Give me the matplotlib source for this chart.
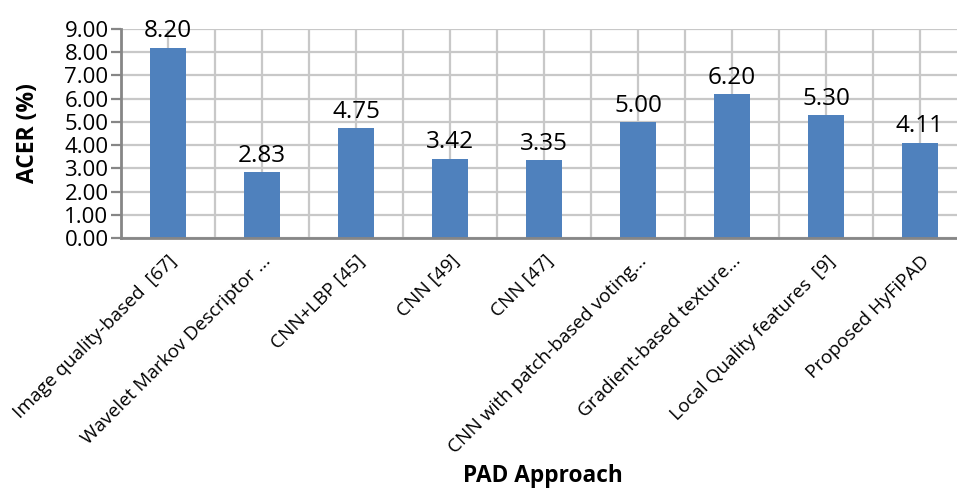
import matplotlib
matplotlib.use("Agg")
import matplotlib.pyplot as plt
import numpy as np

approaches = [
    "Image quality-based  [67]",
    "Wavelet Markov Descriptor ...",
    "CNN+LBP [45]",
    "CNN [49]",
    "CNN [47]",
    "CNN with patch-based voting...",
    "Gradient-based texture...",
    "Local Quality features  [9]",
    "Proposed HyFiPAD",
]
acer = [8.20, 2.83, 4.75, 3.42, 3.35, 5.00, 6.20, 5.30, 4.11]
yticks = [0, 1, 2, 3, 4, 5, 6, 7, 8, 9]

W, H = 957, 488
fig = plt.figure(figsize=(W / 100, H / 100), dpi=100)
left, bottom, top = 121, 238, 29
right = 967
ax = fig.add_axes([left / W, 1 - bottom / H, (right - left) / W, (bottom - top) / H])

x = np.arange(len(approaches))
bar_color = "#4F81BD"
grid_color = "#C8C8C8"
spine_color = "#868686"

ax.set_xlim(-0.5, len(approaches) - 0.5)
ax.set_ylim(0, 9)

# grid: horizontal at each y tick, vertical at centres and boundaries
for yv in yticks:
    ax.axhline(yv, color=grid_color, lw=1.6, zorder=0)
for xv in np.arange(-0.5, len(approaches), 0.5):
    ax.axvline(xv, color=grid_color, lw=1.6, zorder=0)

ax.bar(x, acer, width=0.39, color=bar_color, zorder=2)

for xi, v in zip(x, acer):
    ax.annotate(f"{v:.2f}", (xi, v), xytext=(0, 3), textcoords="offset points",
                ha="center", va="bottom", fontsize=17.5, family="Open Sans", zorder=3)

ax.set_yticks(yticks)
ax.set_yticklabels([f"{v:.2f}" for v in yticks], fontsize=16, family="Open Sans")
ax.set_xticks(x)
ax.set_xticklabels(approaches, rotation=45, ha="right", rotation_mode="anchor",
                   fontsize=13.7, family="Open Sans")
ax.tick_params(axis="y", length=7, width=1.6, color=spine_color, pad=2)
ax.tick_params(axis="x", length=0, pad=10)

for s in ["top", "right"]:
    ax.spines[s].set_visible(False)
for s in ["left", "bottom"]:
    ax.spines[s].set_color(spine_color)
    ax.spines[s].set_linewidth(2)
    ax.spines[s].set_zorder(3)

fig.text(28 / W, 1 - 133 / H, "ACER (%)", rotation=90, ha="center", va="center",
         fontsize=16.5, fontweight="bold", family="Open Sans")
fig.text(543 / W, 1 - 476 / H, "PAD Approach", ha="center", va="center",
         fontsize=16.3, fontweight="bold", family="Open Sans")

fig.savefig("out.png", dpi=100)
